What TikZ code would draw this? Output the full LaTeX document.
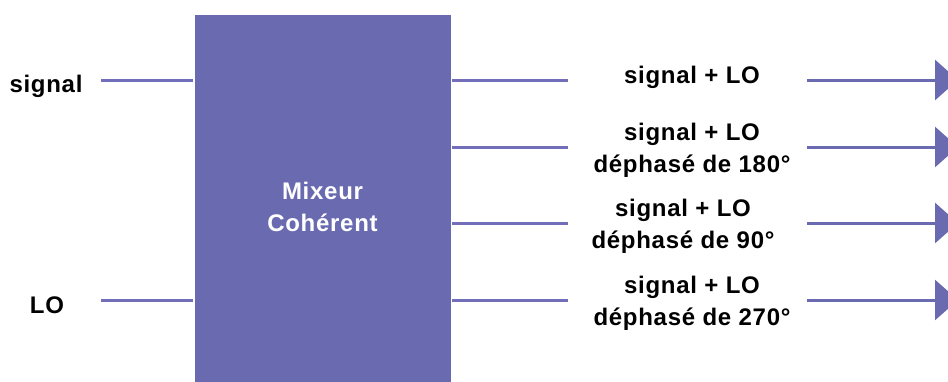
\documentclass[tikz,border=0pt]{standalone}
\usepackage{fontspec}
\setmainfont{Liberation Sans}[LetterSpace=3]
\usetikzlibrary{arrows.meta, positioning}
\definecolor{mixfill}{RGB}{106,106,176}
\definecolor{wire}{RGB}{114,110,186}

\begin{document}
\begin{tikzpicture}[x=1pt, y=-1pt, line width=3pt, wire/.style={draw=wire}, outarrow/.style={wire, -{Triangle[length=23pt, width=40pt]}, color=mixfill}]
\tikzstyle{every node}=[font=\fontsize{24}{32}\selectfont\bfseries, inner sep=0pt]
\useasboundingbox (0,0) rectangle (948,381);
% mixer block
\node[fill=mixfill, text=white, align=center, minimum width=256pt, minimum height=384pt, anchor=north west](mix) at (193,13) {Mixeur\\Cohérent};
% inputs
\node[anchor=base](sig) at (46,92) {signal};
\node[anchor=base](lo) at (47,313) {LO};
\coordinate (sigin) at (101,80);
\coordinate (loin) at (101,300);
\draw[wire] (sigin) -- (sigin -| mix.west);
\draw[wire] (loin) -- (loin -| mix.west);
% outputs (base = last line)
\foreach \y/\b/\x/\t [count=\i] in {80/83/692/{signal + LO}, 147/172/692/{signal + LO\\déphasé de 180°}, 223/248/683/{signal + LO\\déphasé de 90°}, 300/325/692/{signal + LO\\déphasé de 270°}}
{
\node[anchor=base, align=center](out\i) at (\x,\b) {\t};
\coordinate (a\i) at (568,\y);
\coordinate (b\i) at (807,\y);
\coordinate (e\i) at (958,\y);
\draw[wire] (mix.east |- a\i) -- (a\i);
\draw[outarrow] (b\i) -- (e\i);
}
\end{tikzpicture}
\end{document}
